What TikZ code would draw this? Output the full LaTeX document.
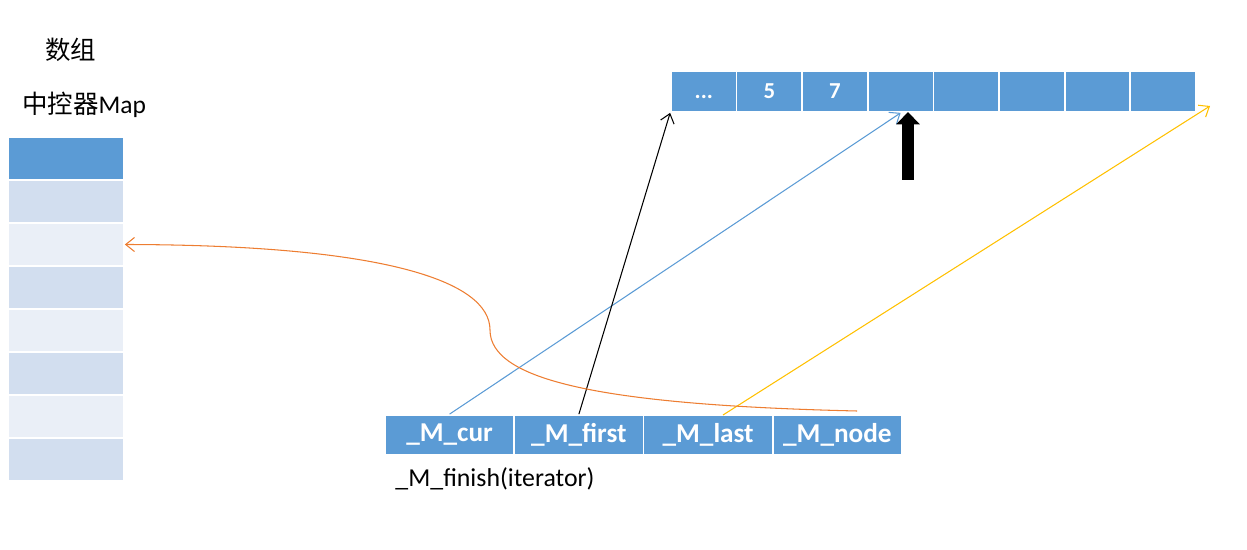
\documentclass[tikz,border=0pt]{standalone}
\usepackage{fontspec}
\setmainfont{Carlito}
\newfontfamily\cjk{Noto Sans CJK SC}
\usetikzlibrary{arrows.meta}
\definecolor{cellblue}{HTML}{5B9BD5}
\definecolor{rowdark}{HTML}{D2DEEF}
\definecolor{rowlight}{HTML}{EAEFF7}
\definecolor{linkorange}{HTML}{ED7D31}
\definecolor{linkyellow}{HTML}{FFC000}
\begin{document}
\begin{tikzpicture}[
  x=0.02cm, y=-0.02cm,
  mapcell/.style={rectangle, draw=white, line width=1pt, minimum width=2.32cm, minimum height=0.86cm, inner sep=0pt},
  bufcell/.style={rectangle, draw=white, line width=1pt, fill=cellblue, minimum width=1.312cm, minimum height=0.82cm, inner sep=0pt, text height=8.5pt, text depth=0pt, text=white, font=\bfseries\fontsize{13}{15}\selectfont},
  itcell/.style={rectangle, draw=white, line width=1pt, fill=cellblue, minimum width=2.585cm, minimum height=0.8cm, inner sep=0pt, text=white, font=\bfseries\fontsize{15.5}{18}\selectfont},
  link/.style={line width=0.6pt, -{Straight Barb[length=5pt, width=8pt]}},
]
\useasboundingbox (0,0) rectangle (1247,550);

% --- titles ---
\node (title) at (71,50) {\cjk\fontsize{14.5}{17}\selectfont 数组};
\node (maptitle) at (84,105) {\fontsize{14.5}{17}\selectfont{\cjk 中控器}Map};

% --- map column ---
\node[mapcell, fill=cellblue] (m1) at (66,158.5) {};
\node[mapcell, fill=rowdark] (m2) at (66,201.5) {};
\node[mapcell, fill=rowlight] (m3) at (66,244.5) {};
\node[mapcell, fill=rowdark] (m4) at (66,287.5) {};
\node[mapcell, fill=rowlight] (m5) at (66,330.5) {};
\node[mapcell, fill=rowdark] (m6) at (66,373.5) {};
\node[mapcell, fill=rowlight] (m7) at (66,416.5) {};
\node[mapcell, fill=rowdark] (m8) at (66,459.5) {};

% --- buffer ---
\node[bufcell] (t1) at (703.8,91.5) {...};
\node[bufcell] (t2) at (769.4,91.5) {5};
\node[bufcell] (t3) at (835,91.5) {7};
\node[bufcell] (t4) at (900.6,91.5) {};
\node[bufcell] (t5) at (966.2,91.5) {};
\node[bufcell] (t6) at (1031.8,91.5) {};
\node[bufcell] (t7) at (1097.4,91.5) {};
\node[bufcell] (t8) at (1163,91.5) {};

% --- iterator ---
\node[itcell] (cur) at (449.6,435) {\_M\_cur};
\node[itcell] (first) at (578.9,435) {\_M\_first};
\node[itcell] (last) at (708.1,435) {\_M\_last};
\node[itcell] (mnode) at (837.4,435) {\_M\_node};
\node (finish) at (495,479) {\fontsize{14.7}{17}\selectfont \_M\_finish(iterator)};

% --- helper points ---
\coordinate (lastout) at (723,415);
\coordinate (bufend) at (1210,106);
\coordinate (nodeout) at (857,411);
\coordinate (markbot) at (908,180);
\coordinate (marktop) at (908,112);

% --- links ---
\draw[link, cellblue] (cur.north) -- (t4.south);
\draw[link, black] (first.north) -- (t1.south west);
\draw[link, linkyellow] (lastout) -- (bufend);
\draw[link, linkorange] (nodeout) .. controls (600,405) and (490,380) .. (490,330)
  .. controls (490,280) and (380,245) .. (m3.east);

% --- current mark ---
\draw[line width=6.8pt, -{Triangle[length=7pt, width=13pt]}] (markbot) -- (marktop);

\end{tikzpicture}
\end{document}
